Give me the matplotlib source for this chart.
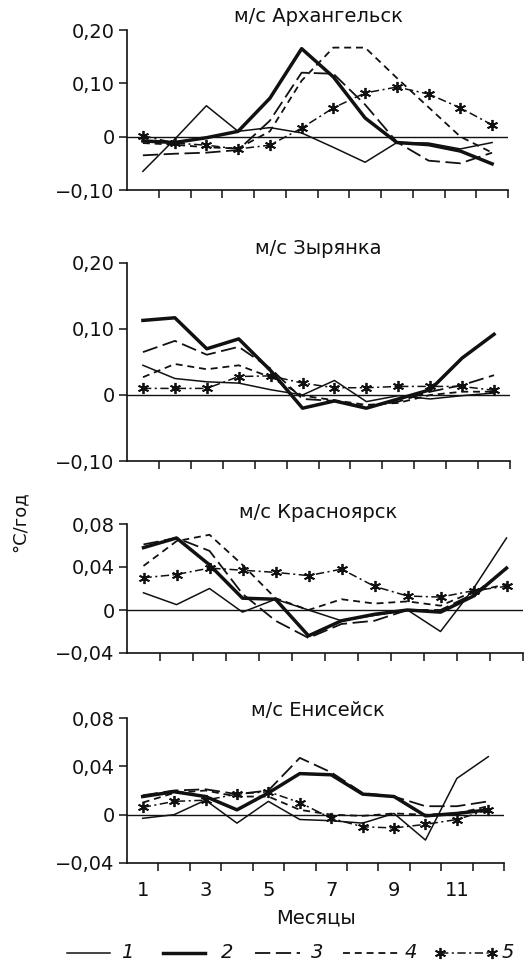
import matplotlib
matplotlib.use('Agg')
import matplotlib.pyplot as plt
from matplotlib.lines import Line2D
import numpy as np

plt.rcParams['font.family'] = ['DejaVu Sans']
plt.rcParams['lines.scale_dashes'] = False

# ---------------- data ----------------
months = list(range(1, 13))
month_labels = ['1', '3', '5', '7', '9', '11']
month_label_pos = [1, 3, 5, 7, 9, 11]
series_labels = ['1', '2', '3', '4', '5']
stations = ['м/с Архангельск', 'м/с Зырянка', 'м/с Красноярск', 'м/с Енисейск']

yticks_big = [-0.10, 0.0, 0.10, 0.20]
yticklabels_big = ['−0,10', '0', '0,10', '0,20']
yticks_small = [-0.04, 0.0, 0.04, 0.08]
yticklabels_small = ['−0,04', '0', '0,04', '0,08']

arkh_1 = [-0.065, -0.005, 0.058, 0.010, 0.017, 0.007, -0.020, -0.048, -0.011, -0.012, -0.023, -0.011]
arkh_2 = [-0.008, -0.011, -0.002, 0.010, 0.072, 0.165, 0.112, 0.035, -0.011, -0.015, -0.027, -0.051]
arkh_3 = [-0.035, -0.032, -0.030, -0.025, 0.030, 0.120, 0.118, 0.060, -0.010, -0.045, -0.050, -0.030]
arkh_4 = [-0.012, -0.015, -0.020, -0.022, 0.010, 0.105, 0.167, 0.167, 0.110, 0.055, 0.000, -0.030]
arkh_5 = [0.002, -0.012, -0.016, -0.023, -0.016, 0.016, 0.054, 0.082, 0.093, 0.080, 0.054, 0.022]

zyr_1 = [0.045, 0.025, 0.020, 0.018, 0.008, 0.000, 0.022, -0.010, -0.001, -0.006, -0.001, 0.003]
zyr_2 = [0.113, 0.117, 0.070, 0.085, 0.037, -0.020, -0.009, -0.020, -0.006, 0.008, 0.056, 0.092]
zyr_3 = [0.065, 0.082, 0.061, 0.073, 0.040, -0.006, -0.009, -0.018, -0.010, 0.005, 0.015, 0.030]
zyr_4 = [0.027, 0.047, 0.039, 0.045, 0.027, -0.001, -0.008, -0.015, -0.012, 0.000, 0.005, 0.005]
zyr_5 = [0.010, 0.010, 0.010, 0.028, 0.029, 0.018, 0.011, 0.011, 0.013, 0.013, 0.013, 0.007]

kras_1 = [0.016, 0.005, 0.020, -0.002, 0.010, 0.000, -0.010, -0.005, 0.000, -0.020, 0.020, 0.067]
kras_2 = [0.058, 0.067, 0.042, 0.011, 0.010, -0.024, -0.010, -0.004, 0.000, -0.002, 0.013, 0.039]
kras_3 = [0.061, 0.067, 0.055, 0.015, -0.010, -0.026, -0.013, -0.010, 0.000, 0.000, 0.015, 0.038]
kras_4 = [0.041, 0.064, 0.070, 0.042, 0.011, 0.000, 0.010, 0.006, 0.008, 0.004, 0.017, 0.024]
kras_5 = [0.030, 0.033, 0.039, 0.037, 0.035, 0.032, 0.038, 0.022, 0.013, 0.012, 0.018, 0.022]

enis_1 = [-0.003, 0.000, 0.012, -0.007, 0.011, -0.004, -0.005, -0.007, 0.001, -0.021, 0.030, 0.048]
enis_2 = [0.015, 0.019, 0.015, 0.004, 0.018, 0.034, 0.033, 0.017, 0.015, -0.001, 0.001, 0.004]
enis_3 = [0.016, 0.020, 0.021, 0.017, 0.020, 0.047, 0.035, 0.018, 0.015, 0.007, 0.007, 0.011]
enis_4 = [0.010, 0.018, 0.020, 0.015, 0.015, 0.004, 0.000, -0.001, 0.001, 0.000, 0.001, 0.007]
enis_5 = [0.006, 0.011, 0.012, 0.017, 0.019, 0.010, -0.003, -0.010, -0.011, -0.008, -0.004, 0.004]

panel_series = [
    [arkh_1, arkh_2, arkh_3, arkh_4, arkh_5],
    [zyr_1, zyr_2, zyr_3, zyr_4, zyr_5],
    [kras_1, kras_2, kras_3, kras_4, kras_5],
    [enis_1, enis_2, enis_3, enis_4, enis_5],
]

# ---------------- styles / layout ----------------
W, H = 526, 966
K = '#111111'
styles = [
    dict(lw=1.1, ls='-'),
    dict(lw=2.5, ls='-'),
    dict(lw=1.3, ls=(0, (11, 4))),
    dict(lw=1.3, ls=(0, (5, 3.5))),
    dict(lw=1.1, ls=(0, (6, 2.5, 1.5, 2.5)), marker=(6, 2, 0), ms=8, mew=1.3),
]
# (left, right, top, bottom) in pixels
boxes = [(127, 508, 30, 190), (127, 510, 263, 461), (127, 523, 524, 653), (127, 504, 718, 863)]
title_y = [17, 248, 513, 710]
FS = 14

fig = plt.figure(figsize=(W / 100, H / 100), dpi=100)

for i, (box, sers) in enumerate(zip(boxes, panel_series)):
    l, r, t, b = box
    ax = fig.add_axes([l / W, 1 - b / H, (r - l) / W, (b - t) / H])
    ax.axhline(0, color=K, lw=1.0, zorder=1)
    for s, st in zip(sers, styles):
        ax.plot(months, s, color=K, dash_capstyle='butt', **st, zorder=2)
    ax.set_xlim(0.5, 12.5)
    if i < 2:
        ax.set_ylim(-0.10, 0.20)
        ax.set_yticks(yticks_big)
        ax.set_yticklabels(yticklabels_big)
    else:
        ax.set_ylim(-0.04, 0.08)
        ax.set_yticks(yticks_small)
        ax.set_yticklabels(yticklabels_small)
    for sp in ['top', 'right']:
        ax.spines[sp].set_visible(False)
    for sp in ['left', 'bottom']:
        ax.spines[sp].set_linewidth(1.2)
        ax.spines[sp].set_color(K)
    ax.set_xticks(np.arange(1.5, 12.6, 1.0), minor=True)
    ax.tick_params(axis='x', which='minor', direction='out', length=6, width=1.1, color=K)
    if i == 3:
        ax.set_xticks(month_label_pos)
        ax.set_xticklabels(month_labels)
        ax.tick_params(axis='x', which='major', length=0, pad=13, labelsize=FS, colors=K)
        ax.set_xlabel('Месяцы', fontsize=FS, color=K, labelpad=6)
    else:
        ax.set_xticks([])
    ax.tick_params(axis='y', direction='out', length=6, width=1.1, pad=3, labelsize=FS, colors=K)
    fig.text(318 / W, 1 - title_y[i] / H, stations[i], ha='center', va='center', fontsize=FS, color=K)

fig.text(20 / W, 1 - 522 / H, '°С/год', rotation=90, ha='center', va='center', fontsize=FS - 1, color=K)

# legend, placed by hand (pixel positions of handle start/end and label)
leg_y = 1 - 953 / H
leg_handles = [(67, 110), (163, 205), (255, 300), (343, 398), (440, 492)]
leg_text_x = [127, 227, 317, 411, 508]
for st, (x0, x1), tx, lab in zip(styles, leg_handles, leg_text_x, series_labels):
    st2 = dict(st)
    if 'marker' in st2:
        st2['markevery'] = [0, 1]
    fig.add_artist(Line2D([x0 / W, x1 / W], [leg_y, leg_y], transform=fig.transFigure,
                          color=K, dash_capstyle='butt', **st2))
    fig.text(tx / W, leg_y, lab, ha='center', va='center', fontsize=FS, style='italic', color=K)

fig.savefig('out.png', dpi=100, facecolor='white')
